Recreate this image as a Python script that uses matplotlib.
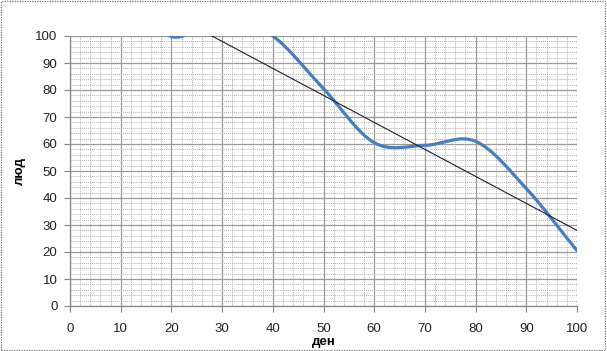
import numpy as np
import matplotlib
matplotlib.use("Agg")
import matplotlib.pyplot as plt
from matplotlib.path import Path
from matplotlib.patches import PathPatch, Rectangle

# values (points above 100 are clipped in the original)
den = [10, 20, 30, 40, 50, 60, 70, 80, 90, 100]
lud = [120, 99.8, 108, 100, 80.5, 60.5, 59.5, 61, 43.5, 20.5]
trend_x = [0, 100]
trend_y = [128, 28]

x_ticks = list(range(0, 101, 10))
y_ticks = list(range(0, 101, 10))

plt.rcParams['font.family'] = ['Liberation Sans', 'DejaVu Sans']

def smooth_path(xs, ys):
    # Excel-like smoothed line: bezier segments with catmull-rom handles
    p = np.column_stack([xs, ys]).astype(float)
    verts = [p[0]]
    codes = [Path.MOVETO]
    n = len(p)
    for i in range(n - 1):
        p0 = p[i - 1] if i > 0 else 2*p[i] - p[i + 1]
        p3 = p[i + 2] if i + 2 < n else 2*p[i + 1] - p[i]
        c1 = p[i] + (p[i + 1] - p0) / 6
        c2 = p[i + 1] - (p3 - p[i]) / 6
        verts += [c1, c2, p[i + 1]]
        codes += [Path.CURVE4] * 3
    return Path(verts, codes)

fig = plt.figure(figsize=(6.07, 3.51), dpi=100)
ax = fig.add_axes([70/607, 1-306/351, 507/607, 270/351])

ax.set_xlim(0, 100)
ax.set_ylim(0, 100)
ax.set_xticks(x_ticks)
ax.set_yticks(y_ticks)
ax.set_xticks(np.arange(0, 101, 2), minor=True)
ax.set_yticks(np.arange(0, 101, 2), minor=True)
ax.grid(which='minor', color='#b4b4b4', linestyle=(0, (1, 1)), linewidth=0.7)
ax.grid(which='major', color='#9a9a9a', linestyle='-', linewidth=0.9)
ax.set_axisbelow(True)
ax.tick_params(which='minor', length=0)
ax.tick_params(which='major', direction='out', length=4, color='#868686',
               labelsize=9.5, labelcolor='#222222', pad=5)
ax.tick_params(axis='x', pad=8)

for s in ['top', 'right']:
    ax.spines[s].set_visible(False)
for s in ['left', 'bottom']:
    ax.spines[s].set_color('#868686')
    ax.spines[s].set_linewidth(0.9)

patch = PathPatch(smooth_path(den, lud), fill=False, edgecolor='#4a7ebb',
                  linewidth=2.3, capstyle='round', zorder=3)
ax.add_patch(patch)
patch.set_clip_path(ax.patch)

ax.plot(trend_x, trend_y, color='#222222', linewidth=0.8, zorder=4)

ax.set_xlabel('ден', fontsize=9.5, fontweight='bold', labelpad=1)
ax.set_ylabel('люд', fontsize=9.5, fontweight='bold', labelpad=7)

fig.patches.append(Rectangle((0.002, 0.003), 0.995, 0.993, transform=fig.transFigure,
                             fill=False, edgecolor='#777777', linestyle=(0, (1, 1)),
                             linewidth=0.9))

fig.savefig('out.png', dpi=100)
